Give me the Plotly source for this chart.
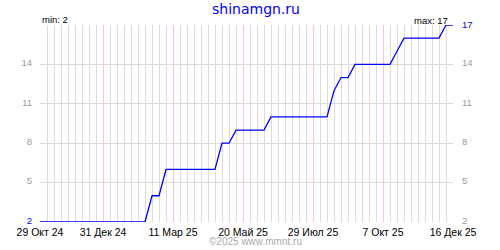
import pandas as pd
import plotly.graph_objects as go

# ---- data ----
start_date = "2024-10-29"
n_weeks = 60
values = ([2] * 16 + [4, 4, 6] + [6] * 7 + [8, 8, 9] + [9] * 4 + [10] + [10] * 8 +
          [12, 13, 13, 14] + [14] * 5 + [15, 16] + [16] * 5 + [17, 17])
dates = pd.date_range(start_date, periods=n_weeks, freq="7D")

x_tick_dates = ["2024-10-29", "2024-12-31", "2025-03-11", "2025-05-20",
                "2025-07-29", "2025-10-07", "2025-12-16"]
x_tick_labels = ["29 Окт 24", "31 Дек 24", "11 Мар 25", "20 Май 25",
                 "29 Июл 25", "7 Окт 25", "16 Дек 25"]
y_ticks = [2, 5, 8, 11, 14, 17]
y_min, y_max = 2, 17

BLUE = "#0000ff"
GRAY_TXT = "#9a9a9a"
GRID = "#dcdcdc"
PINK = "#ffc4c4"
FONT = "Liberation Sans"

left_text = [f'<span style="color:{BLUE}">{v}</span>' if v == y_min else str(v) for v in y_ticks[:-1]]
right_text = [str(v) for v in y_ticks[:-1]]
right_top = [f'<span style="color:{BLUE}">{y_max}</span>']

# labels sit ~1.5px above their gridlines, as in the reference
shift = 1.5 * (y_max - y_min) / 200

fig = go.Figure()
fig.add_trace(go.Scatter(x=dates, y=values, mode="lines",
                         line=dict(color=BLUE, width=1.3, shape="linear"),
                         hoverinfo="skip", showlegend=False))
for ax in ("y2", "y3", "y4"):
    fig.add_trace(go.Scatter(x=dates, y=values, mode="lines", yaxis=ax,
                             line=dict(color="rgba(0,0,0,0)", width=0),
                             hoverinfo="skip", showlegend=False))

label_font = dict(family=FONT, size=9.5, color=GRAY_TXT)
fig.update_layout(
    width=500, height=250,
    margin=dict(l=40, r=47, t=25, b=25, pad=0),
    paper_bgcolor="white", plot_bgcolor="white",
    hovermode=False,
    font=dict(family=FONT, size=10, color="black"),
    xaxis=dict(
        type="date",
        range=[x_tick_dates[0], x_tick_dates[-1]],
        tickvals=x_tick_dates, ticktext=x_tick_labels,
        showgrid=True, gridcolor=PINK, gridwidth=1,
        minor=dict(tick0=start_date, dtick=7 * 86400000, showgrid=True,
                   gridcolor=GRID, gridwidth=1),
        ticks="", ticklabelstandoff=2,
        tickfont=dict(family=FONT, size=10.5, color="black"),
        zeroline=False, showline=False, fixedrange=True,
    ),
    yaxis=dict(
        range=[y_min, y_max], tickvals=y_ticks, showticklabels=False,
        showgrid=True, gridcolor=GRID, gridwidth=1, ticks="",
        zeroline=False, showline=False, fixedrange=True,
    ),
    yaxis3=dict(
        overlaying="y", side="left",
        range=[y_min - shift, y_max - shift], tickvals=y_ticks[:-1], ticktext=left_text,
        showgrid=False, ticks="", ticklabelstandoff=7, tickfont=label_font,
        zeroline=False, showline=False, fixedrange=True,
    ),
    yaxis4=dict(
        overlaying="y", side="right",
        range=[y_min - shift, y_max - shift], tickvals=y_ticks[:-1], ticktext=right_text,
        showgrid=False, ticks="", ticklabelstandoff=8, tickfont=label_font,
        zeroline=False, showline=False, fixedrange=True,
    ),
    yaxis2=dict(
        overlaying="y", side="right",
        range=[y_min, y_max], tickvals=[y_max], ticktext=right_top,
        showgrid=False, ticks="", ticklabelstandoff=8, tickfont=label_font,
        zeroline=False, showline=False, fixedrange=True,
    ),
)

fig.add_annotation(text="shinamgn.ru", xref="paper", yref="paper",
                   x=(255.5 - 40) / 413, y=1 + (25 - 9) / 200,
                   xanchor="center", yanchor="middle", showarrow=False,
                   font=dict(family="DejaVu Sans", size=14, color=BLUE))
fig.add_annotation(text=f"min: {min(values)}", xref="paper", yref="paper",
                   x=0, y=1 + (25 - 19.5) / 200, xanchor="left", yanchor="middle",
                   showarrow=False, font=dict(family=FONT, size=9.5, color="black"))
fig.add_annotation(text=f"max: {max(values)}", xref="paper", yref="paper",
                   x=(450 - 40) / 413, y=1 + (25 - 20) / 200, xanchor="right", yanchor="middle",
                   showarrow=False, font=dict(family=FONT, size=9.5, color="black"))
fig.add_annotation(text="©2025 www.mmnt.ru", xref="paper", yref="paper",
                   x=(255.5 - 40) / 413, y=-(244.5 - 225) / 200,
                   xanchor="center", yanchor="middle", showarrow=False,
                   font=dict(family=FONT, size=10, color="#aaaaaa"))

fig.write_html("out.html", config={"displayModeBar": False})
